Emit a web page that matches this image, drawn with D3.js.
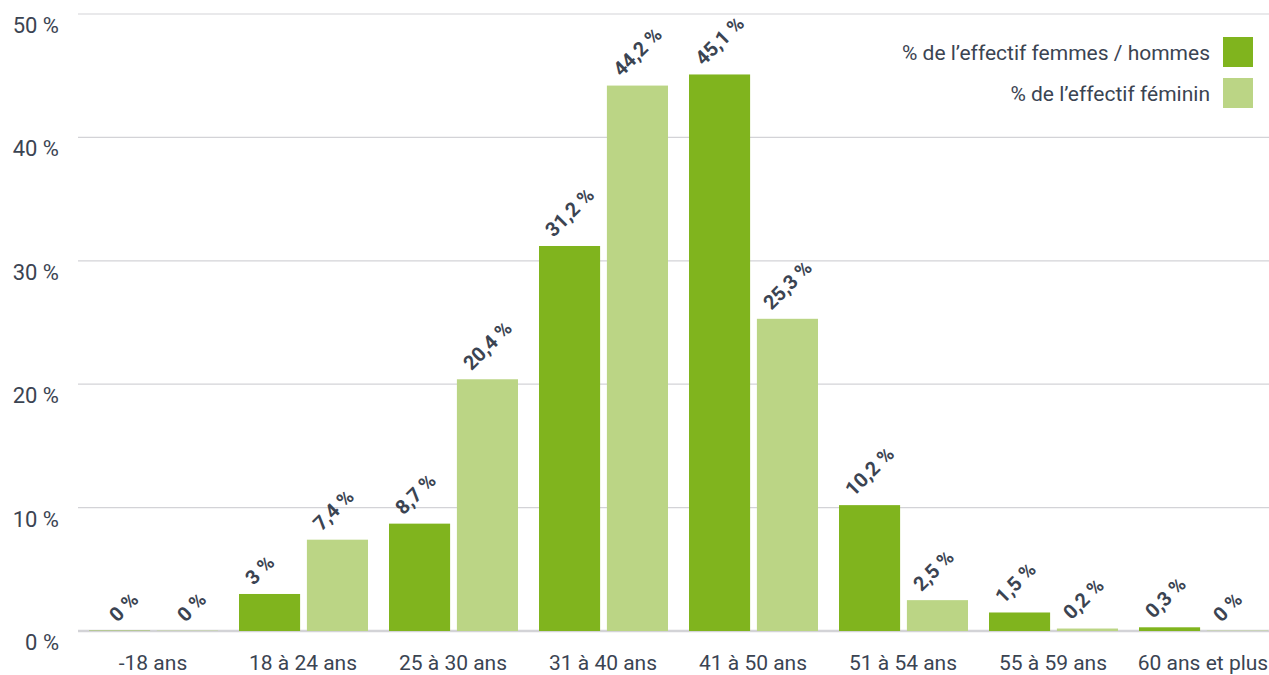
<!DOCTYPE html>
<html>
<head>
<meta charset="utf-8">
<script src="https://cdn.jsdelivr.net/npm/d3@7"></script>
<style>
  body { margin: 0; background: #fff; }
  svg { display: block; font-family: Roboto, "Open Sans", sans-serif; }
  .tick-label { fill: #3b4452; font-size: 21px; }
  .y-label { fill: #3b4452; font-size: 22px; }
  .value-label { fill: #3b4452; font-size: 20px; font-weight: bold; }
  .legend-text { fill: #3b4452; font-size: 21px; }
</style>
</head>
<body>
<div id="chart"></div>
<script>
// categories (age ranges)
var categories = ["-18 ans", "18 à 24 ans", "25 à 30 ans", "31 à 40 ans", "41 à 50 ans", "51 à 54 ans", "55 à 59 ans", "60 ans et plus"]
// series
var seriesNames = ["% de l’effectif femmes / hommes", "% de l’effectif féminin"]
var seriesColors = ["#80b41e", "#bbd585"]
var valuesFemmesHommes = [0, 3, 8.7, 31.2, 45.1, 10.2, 1.5, 0.3]
var valuesFeminin = [0, 7.4, 20.4, 44.2, 25.3, 2.5, 0.2, 0]
var yTicks = [0, 10, 20, 30, 40, 50]

var width = 1269, height = 675
var margin = {left: 78, top: 14, bottom: 44}

var svg = d3.select("#chart").append("svg")
    .attr("width", width)
    .attr("height", height)

// scales
var x0 = d3.scaleBand()
    .domain(categories)
    .range([margin.left, margin.left + 150 * categories.length])

var x1 = d3.scaleBand()
    .domain([0, 1])
    .range([11, 140])
    .paddingInner(0.1)

var y = d3.scaleLinear()
    .domain([0, 50])
    .range([height - margin.bottom, margin.top])

// grid lines
svg.append("g").selectAll("line")
    .data(yTicks)
  .enter().append("line")
    .attr("x1", margin.left)
    .attr("x2", width)
    .attr("y1", function(d){ return y(d) })
    .attr("y2", function(d){ return y(d) })
    .attr("stroke", "#d3d3d7")
    .attr("stroke-width", function(d){ return d === 0 ? 2.5 : 1.2 })

// y tick labels
svg.append("g").selectAll("text")
    .data(yTicks)
  .enter().append("text")
    .attr("class", "y-label")
    .attr("x", 59)
    .attr("y", function(d){ return y(d) + 19 })
    .attr("text-anchor", "end")
    .text(function(d){ return d + "\u00a0%" })

// x labels
svg.append("g").selectAll("text")
    .data(categories)
  .enter().append("text")
    .attr("class", "tick-label")
    .attr("x", function(d){ return x0(d) + x0.bandwidth() / 2 })
    .attr("y", 670)
    .attr("text-anchor", "middle")
    .text(function(d){ return d })

// bars
var rows = categories.map(function(c, i){
  return [valuesFemmesHommes[i], valuesFeminin[i]].map(function(v, s){
    return {cat: c, idx: i, s: s, v: v}
  })
})

var group = svg.append("g").selectAll("g")
    .data(rows)
  .enter().append("g")
    .attr("transform", function(d, i){ return "translate(" + x0(categories[i]) + ",0)" })

group.selectAll("rect")
    .data(function(d){ return d })
  .enter().append("rect")
    .attr("x", function(d){ return x1(d.s) })
    .attr("width", x1.bandwidth())
    .attr("y", function(d){ return y(d.v) - (d.v === 0 ? 1 : 0) })
    .attr("height", function(d){ return y(0) - y(d.v) + (d.v === 0 ? 1 : 0) })
    .attr("fill", function(d){ return seriesColors[d.s] })
    .attr("opacity", function(d){ return d.v === 0 ? 0.35 : 1 })

// value labels, rotated
function fmt(v){ return String(v).replace(".", ",") + "\u00a0%" }

group.selectAll("text")
    .data(function(d){ return d })
  .enter().append("text")
    .attr("class", "value-label")
    .attr("transform", function(d){
      // first group labels are nudged right (kept inside plot)
      var cx = x1(d.s) + x1.bandwidth() / 2 - 16 + (d.idx === 0 ? 14 : 0)
      return "translate(" + cx + "," + (y(d.v) - 8) + ") rotate(-45)"
    })
    .text(function(d){ return fmt(d.v) })

// legend
var legend = svg.append("g").selectAll("g")
    .data(seriesNames)
  .enter().append("g")
    .attr("transform", function(d, i){ return "translate(1223," + (37 + i * 41) + ")" })

legend.append("rect")
    .attr("width", 30)
    .attr("height", 30)
    .attr("fill", function(d, i){ return seriesColors[i] })

legend.append("text")
    .attr("class", "legend-text")
    .attr("x", -13)
    .attr("y", 23)
    .attr("text-anchor", "end")
    .text(function(d){ return d })
</script>
</body>
</html>
